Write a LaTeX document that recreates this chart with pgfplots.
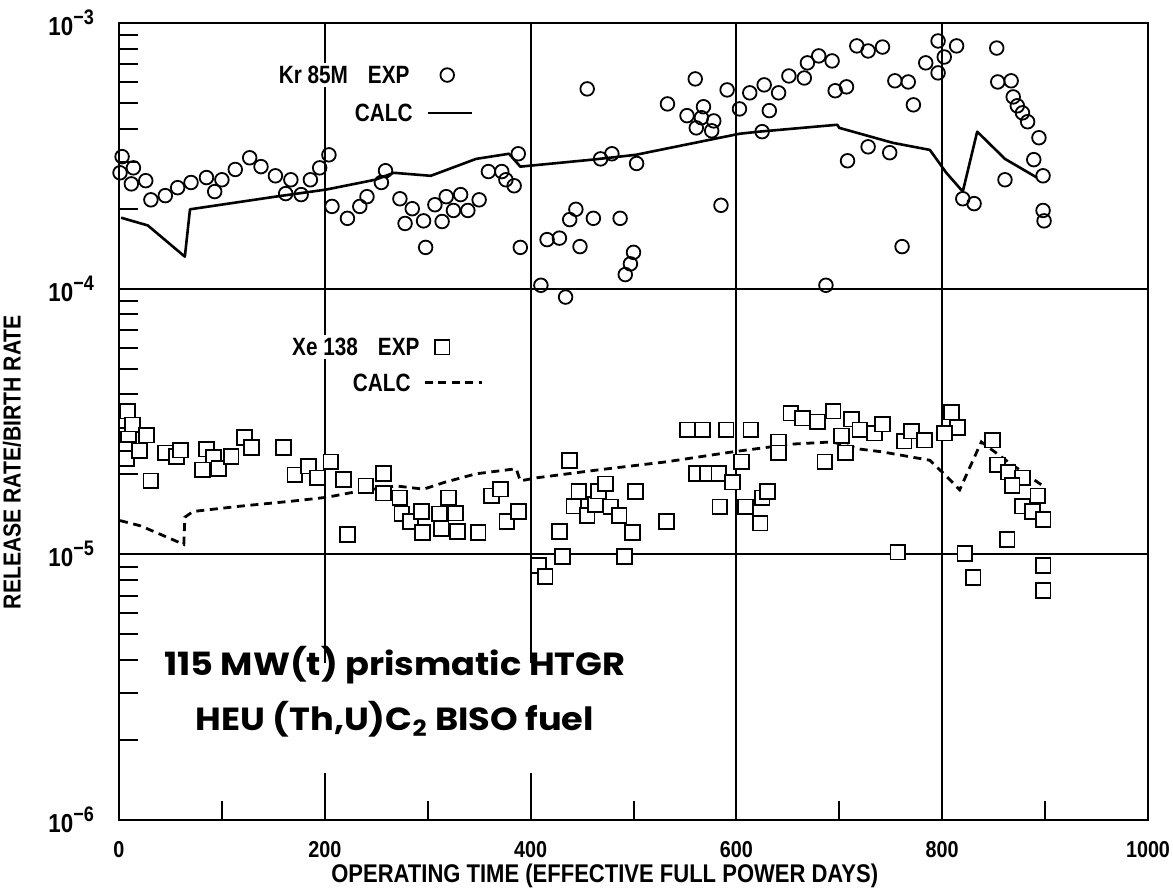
\documentclass[border=0pt]{standalone}
\usepackage{pgfplots}
\pgfplotsset{compat=1.18}
\usepackage{fontspec}
\setmainfont{Liberation Sans}
\newfontfamily\condfont{Liberation Sans}[FakeStretch=0.86]
\newfontfamily\legfont{Liberation Sans}[FakeStretch=0.83]
\newfontfamily\bigfont{Poppins}[FakeStretch=1.1]
\newcommand{\ep}[1]{10\raisebox{0.42em}{\fontsize{10.5}{10.5}\selectfont −#1}}
\begin{document}
\begin{tikzpicture}
\useasboundingbox (-59.5pt,-34pt) rectangle (527pt,410pt);
\begin{axis}[
  at={(0,0)}, anchor=south west,
  width=514.5pt, height=398.5pt, scale only axis,
  xmin=0, xmax=1000, ymin=1e-6, ymax=1e-3, ymode=log,
  axis line style={line width=1pt},
  xtick={0,200,400,600,800,1000},
  xticklabels={0,200,400,600,800,1000},
  minor xtick={100,300,500,700,900},
  ytick={1e-6,1e-5,1e-4,1e-3},
  yticklabels={\ep{6},\ep{5},\ep{4},\ep{3}},
  minor ytick={2e-6,3e-6,4e-6,5e-6,6e-6,7e-6,8e-6,9e-6,2e-5,3e-5,4e-5,5e-5,6e-5,7e-5,8e-5,9e-5,2e-4,3e-4,4e-4,5e-4,6e-4,7e-4,8e-4,9e-4},
  tick align=inside, xtick pos=bottom, ytick pos=left,
  major tick length=0pt, minor tick length=9.5pt,
  minor tick style={line width=1pt, black},
  grid=major, major grid style={line width=1pt, black},
  xticklabel style={font=\condfont\bfseries\fontsize{11.5}{13}\selectfont, yshift=-7pt},
  yticklabel style={font=\condfont\bfseries\fontsize{13}{14}\selectfont, xshift=-9pt},
  xlabel={OPERATING TIME (EFFECTIVE FULL POWER DAYS)},
  ylabel={RELEASE RATE/BIRTH RATE},
  xlabel style={font=\condfont\bfseries\fontsize{12.8}{14}\selectfont, at={(axis description cs:0.472,0)}, anchor=center, yshift=-28pt},
  ylabel style={font=\condfont\bfseries\fontsize{12.3}{14}\selectfont, at={(axis description cs:-0.104,0.449)}, anchor=center},
  clip=false,
]
% Kr calc
\addplot[black, line width=1.3pt, line join=round] coordinates {
(2,1.85e-4)(28,1.73e-4)(64,1.32e-4)(69,1.99e-4)(152,2.22e-4)(201,2.36e-4)(249,2.57e-4)(267,2.73e-4)(303,2.66e-4)(347,3.08e-4)(379,3.22e-4)(390,2.88e-4)(460,3.06e-4)(502,3.19e-4)(603,3.83e-4)(622,3.90e-4)(698,4.14e-4)(700,4.03e-4)(752,3.54e-4)(788,3.33e-4)(804,2.73e-4)(820,2.32e-4)(834,3.90e-4)(861,3.08e-4)(892,2.62e-4)};
% Xe calc
\addplot[black, line width=1.4pt, dash pattern=on 4pt off 2.8pt] coordinates {
(1,1.34e-5)(21,1.28e-5)(63,1.09e-5)(64,1.38e-5)(72,1.45e-5)(119,1.52e-5)(171,1.59e-5)(202,1.64e-5)(230,1.72e-5)(269,1.81e-5)(296,1.76e-5)(317,1.87e-5)(347,2.01e-5)(386,2.10e-5)(390,1.89e-5)(405,1.94e-5)(466,2.08e-5)(532,2.23e-5)(596,2.43e-5)(654,2.60e-5)(693,2.65e-5)(720,2.49e-5)(742,2.43e-5)(788,2.26e-5)(804,1.97e-5)(817,1.75e-5)(838,2.65e-5)(866,2.2e-5)(898,1.81e-5)};
% Kr exp
\addplot[only marks, mark=o, mark size=3.4pt, mark options={line width=0.9pt, fill=white, draw=black}] coordinates {
(3,3.14e-4)(14,2.85e-4)(1,2.73e-4)(12,2.48e-4)(26,2.55e-4)(31,2.16e-4)(45,2.24e-4)(57,2.40e-4)(70,2.51e-4)(85,2.62e-4)(93,2.32e-4)(100,2.57e-4)(113,2.81e-4)(127,3.11e-4)(138,2.88e-4)(152,2.66e-4)(162,2.28e-4)(167,2.57e-4)(177,2.26e-4)(186,2.57e-4)(195,2.85e-4)(204,3.19e-4)(207,2.04e-4)(222,1.84e-4)(234,2.04e-4)(241,2.22e-4)(255,2.51e-4)(259,2.78e-4)(273,2.18e-4)(285,2.00e-4)(278,1.76e-4)(296,1.80e-4)(307,2.07e-4)(314,1.79e-4)(318,2.22e-4)(325,1.97e-4)(332,2.26e-4)(339,1.97e-4)(350,2.16e-4)(298,1.43e-4)(359,2.76e-4)(372,2.76e-4)(376,2.57e-4)(384,2.44e-4)(388,3.22e-4)(390,1.43e-4)(410,1.03e-4)(434,9.3e-5)(416,1.53e-4)(428,1.55e-4)(448,1.44e-4)(438,1.82e-4)(444,1.99e-4)(461,1.84e-4)(487,1.84e-4)(492,1.13e-4)(497,1.24e-4)(500,1.37e-4)(455,5.65e-4)(468,3.08e-4)(479,3.22e-4)(503,2.96e-4)(533,4.96e-4)(552,4.48e-4)(560,6.16e-4)(561,4.03e-4)(566,4.40e-4)(568,4.84e-4)(578,4.28e-4)(576,3.93e-4)(585,2.06e-4)(591,5.60e-4)(603,4.75e-4)(613,5.46e-4)(627,5.85e-4)(625,3.90e-4)(632,4.68e-4)(641,5.46e-4)(651,6.32e-4)(666,6.21e-4)(669,7.08e-4)(680,7.52e-4)(693,7.20e-4)(696,5.56e-4)(707,5.75e-4)(717,8.20e-4)(728,7.85e-4)(742,8.12e-4)(708,3.03e-4)(728,3.42e-4)(749,3.25e-4)(754,6.06e-4)(687,1.03e-4)(761,1.44e-4)(767,6.00e-4)(772,4.92e-4)(784,7.08e-4)(796,6.49e-4)(802,7.45e-4)(796,8.56e-4)(814,8.20e-4)(820,2.18e-4)(831,2.09e-4)(853,8.05e-4)(854,6.00e-4)(867,6.06e-4)(869,5.27e-4)(873,4.88e-4)(878,4.59e-4)(883,4.25e-4)(894,3.70e-4)(889,3.06e-4)(898,2.66e-4)(861,2.57e-4)(898,1.97e-4)(899,1.80e-4)};
% Xe exp
\addplot[only marks, mark=square*, mark size=3.7pt, mark options={line width=0.9pt, fill=white, draw=black}] coordinates {
(8,3.46e-5)(13,3.07e-5)(27,2.81e-5)(9,2.72e-5)(7,2.49e-5)(7,2.29e-5)(20,2.45e-5)(45,2.41e-5)(56,2.33e-5)(60,2.47e-5)(31,1.89e-5)(85,2.49e-5)(92,2.31e-5)(81,2.08e-5)(97,2.10e-5)(109,2.34e-5)(122,2.76e-5)(129,2.53e-5)(160,2.53e-5)(171,1.99e-5)(184,2.15e-5)(193,1.94e-5)(206,2.23e-5)(218,1.91e-5)(222,1.19e-5)(240,1.81e-5)(257,2.02e-5)(257,1.70e-5)(273,1.63e-5)(275,1.42e-5)(283,1.33e-5)(294,1.45e-5)(295,1.21e-5)(311,1.42e-5)(313,1.25e-5)(320,1.63e-5)(327,1.43e-5)(329,1.22e-5)(349,1.21e-5)(362,1.66e-5)(371,1.76e-5)(377,1.33e-5)(388,1.45e-5)(438,2.25e-5)(428,1.22e-5)(408,9.06e-6)(414,8.24e-6)(431,9.8e-6)(491,9.8e-6)(447,1.72e-5)(442,1.52e-5)(455,1.40e-5)(463,1.54e-5)(466,1.73e-5)(473,1.84e-5)(478,1.51e-5)(486,1.40e-5)(499,1.21e-5)(502,1.72e-5)(532,1.33e-5)(552,2.94e-5)(567,2.94e-5)(590,2.94e-5)(614,2.94e-5)(561,2.02e-5)(572,2.02e-5)(583,2.02e-5)(596,1.87e-5)(605,2.23e-5)(584,1.51e-5)(609,1.51e-5)(625,1.63e-5)(630,1.72e-5)(623,1.31e-5)(641,2.65e-5)(641,2.41e-5)(653,3.40e-5)(664,3.26e-5)(679,3.15e-5)(694,3.46e-5)(712,3.23e-5)(720,2.94e-5)(702,2.79e-5)(706,2.41e-5)(686,2.23e-5)(734,2.86e-5)(742,3.09e-5)(757,1.02e-5)(763,2.67e-5)(770,2.91e-5)(783,2.69e-5)(809,3.43e-5)(815,3.01e-5)(802,2.86e-5)(822,1.01e-5)(830,8.17e-6)(863,1.14e-5)(849,2.69e-5)(854,2.17e-5)(864,2.04e-5)(878,1.94e-5)(868,1.82e-5)(893,1.66e-5)(878,1.52e-5)(888,1.45e-5)(898,1.35e-5)(898,9.06e-6)(898,7.30e-6)};
% annotations
\node[fill=white, inner sep=1.5pt, anchor=west, font=\legfont\bfseries\fontsize{12.5}{14}\selectfont] at (axis cs:152,6.37e-4) {Kr 85M\hspace{10pt}EXP};
\addplot[only marks, mark=o, mark size=3.4pt, mark options={line width=0.9pt, fill=white, draw=black}] coordinates {(319,6.37e-4)};
\node[anchor=west, inner sep=1.5pt, font=\legfont\bfseries\fontsize{12.5}{14}\selectfont] at (axis cs:226,4.58e-4) {CALC};
\addplot[black, line width=1.3pt] coordinates {(300,4.58e-4)(343,4.58e-4)};
\node[fill=white, inner sep=1.5pt, anchor=west, font=\legfont\bfseries\fontsize{12.5}{14}\selectfont] at (axis cs:165,6.03e-5) {Xe 138\hspace{10pt}EXP};
\addplot[only marks, mark=square*, mark size=3.7pt, mark options={line width=0.9pt, fill=white, draw=black}] coordinates {(314,6.03e-5)};
\node[anchor=west, inner sep=1.5pt, font=\legfont\bfseries\fontsize{12.5}{14}\selectfont] at (axis cs:224,4.42e-5) {CALC};
\addplot[black, line width=1.4pt, dash pattern=on 4pt off 2.8pt] coordinates {(297,4.42e-5)(353,4.42e-5)};
\fill[white] (axis cs:30,3.9e-6) rectangle (axis cs:506,1.5e-6);
\node[inner sep=4pt, align=center, font=\bigfont\bfseries\fontsize{16}{27.5}\selectfont] at (axis cs:268,3.03e-6) {115 MW(t) prismatic HTGR\\HEU (Th,U)C\textsubscript{2} BISO fuel};
\end{axis}
\end{tikzpicture}
\end{document}
